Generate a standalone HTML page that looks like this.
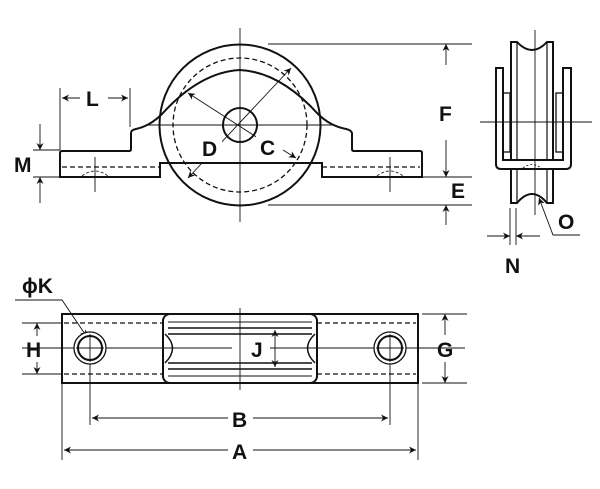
<!DOCTYPE html>
<html><head><meta charset="utf-8"><style>
html,body{margin:0;padding:0;background:#fff;}
svg{display:block;}
text{font-family:"Liberation Sans",sans-serif;font-weight:bold;font-size:21px;fill:#111;}
</style></head><body>
<svg width="600" height="489" viewBox="0 0 600 489" xmlns="http://www.w3.org/2000/svg">
<defs>
<marker id="a" viewBox="0 0 10 10" refX="10" refY="5" markerWidth="9" markerHeight="7" orient="auto-start-reverse" markerUnits="userSpaceOnUse"><path d="M0,0 L10,5 L0,10 L3,5z" fill="#111"/></marker>
</defs>
<g fill="none" stroke="#111">
<g stroke-width="0.9">
<line x1="240" y1="28" x2="240" y2="222"/>
<line x1="148" y1="125" x2="335" y2="125"/>
<line x1="268" y1="44" x2="472" y2="44"/>
<line x1="268" y1="205" x2="472" y2="205"/>
<line x1="422" y1="177" x2="472" y2="177"/>
<line x1="60" y1="88" x2="60" y2="150"/>
<line x1="130" y1="88" x2="130" y2="127"/>
<line x1="33" y1="150" x2="60" y2="150"/>
<line x1="33" y1="177" x2="60" y2="177"/>
<line x1="95" y1="157" x2="95" y2="192"/>
<line x1="390" y1="157" x2="390" y2="192"/>
<line x1="446" y1="65" x2="446" y2="44" marker-end="url(#a)"/>
<line x1="446" y1="140" x2="446" y2="177" marker-end="url(#a)"/>
<line x1="446" y1="225" x2="446" y2="205" marker-end="url(#a)"/>
<line x1="80" y1="98" x2="62" y2="98" marker-end="url(#a)"/>
<line x1="108" y1="98" x2="128" y2="98" marker-end="url(#a)"/>
<line x1="40" y1="124" x2="40" y2="150" marker-end="url(#a)"/>
<line x1="40" y1="203" x2="40" y2="177" marker-end="url(#a)"/>
<line x1="188" y1="178" x2="291" y2="68" marker-start="url(#a)" marker-end="url(#a)"/>
<line x1="258" y1="138" x2="188" y2="93" marker-end="url(#a)"/>
<line x1="283" y1="150" x2="296" y2="158" marker-end="url(#a)"/>
</g>
<circle cx="240" cy="125" r="80.5" stroke-width="2"/>
<circle cx="240" cy="125" r="67" stroke-width="1.3" stroke-dasharray="5,3"/>
<circle cx="240" cy="125" r="17" stroke-width="2"/>
<path d="M60,177 L160,177 L160,163 L322,163 L322,177 L422,177 L422,153 Q422,151 420,151 L354,151 Q352,151 352,149 L352,133 Q351,130 346,129 Q330,126 318,114 Q280,72 240,70 Q200,72 162,114 Q150,126 136,129 Q131,130 131,133 L131,149 Q131,151 129,151 L62,151 Q60,151 60,153 Z" stroke-width="2"/>
<line x1="62" y1="167" x2="160" y2="167" stroke-width="1.2" stroke-dasharray="5,3"/>
<line x1="322" y1="167" x2="420" y2="167" stroke-width="1.2" stroke-dasharray="5,3"/>
<path d="M82,176 Q95,166 108,176 M377,176 Q390,166 403,176" stroke-width="0.8" stroke-dasharray="3,2"/>

<g stroke-width="0.9">
<line x1="535" y1="30" x2="535" y2="215"/>
<line x1="480" y1="122" x2="592" y2="122"/>
<line x1="510" y1="208" x2="510" y2="245"/>
<line x1="516" y1="208" x2="516" y2="245"/>
<line x1="487" y1="236" x2="510" y2="236" marker-end="url(#a)"/>
<line x1="540" y1="236" x2="516" y2="236" marker-end="url(#a)"/>
<polyline points="580,235 553,235 539,198" marker-end="url(#a)"/>
</g>
<g stroke-width="2">
<path d="M511,160 L511,42 L517,42 Q532,58 547,42 L553,42 L553,160"/>
<line x1="517" y1="42" x2="517" y2="160" stroke-width="1.2"/>
<line x1="547" y1="42" x2="547" y2="160" stroke-width="1.2"/>
<path d="M511,168 L511,203 L517,203 Q532,185 547,203 L553,203 L553,168" />
<line x1="517" y1="168" x2="517" y2="203" stroke-width="1.2"/>
<line x1="547" y1="168" x2="547" y2="203" stroke-width="1.2"/>
<path d="M496,68 L503,68 L503,160 L563,160 L563,68 L571,68 L571,164 Q571,169 566,169 L501,169 Q496,169 496,164 Z"/>
<rect x="503" y="93" width="7" height="59" stroke-width="1.3"/>
<rect x="556" y="93" width="7" height="59" stroke-width="1.3"/>
<path d="M523,168 Q532,161 541,168" stroke-width="0.8" stroke-dasharray="2,2"/>
</g>

<rect x="62" y="314" width="356" height="69" stroke-width="2"/>
<line x1="64" y1="323" x2="163" y2="323" stroke-width="1.2" stroke-dasharray="5,3"/>
<line x1="64" y1="374" x2="163" y2="374" stroke-width="1.2" stroke-dasharray="5,3"/>
<line x1="317" y1="323" x2="416" y2="323" stroke-width="1.2" stroke-dasharray="5,3"/>
<line x1="317" y1="374" x2="416" y2="374" stroke-width="1.2" stroke-dasharray="5,3"/>
<rect x="163" y="314" width="154" height="69" rx="7" stroke-width="2"/>
<g stroke-width="1.5">
<line x1="168" y1="328" x2="312" y2="328"/>
<line x1="168" y1="334" x2="312" y2="334"/>
<line x1="168" y1="363" x2="312" y2="363"/>
<line x1="168" y1="369" x2="312" y2="369"/>
<line x1="168" y1="376" x2="312" y2="376" stroke-width="1"/>
<line x1="168" y1="322" x2="312" y2="322" stroke-width="1"/>
<path d="M165,334 Q180,348 165,363 M315,334 Q300,348 315,363"/>
</g>
<g stroke-width="0.9">
<line x1="240" y1="308" x2="240" y2="390"/>
<line x1="22" y1="348" x2="232" y2="348"/>
<line x1="248" y1="348" x2="465" y2="348"/>
<line x1="22" y1="323" x2="62" y2="323"/>
<line x1="22" y1="374" x2="62" y2="374"/>
<line x1="422" y1="314" x2="467" y2="314"/>
<line x1="422" y1="383" x2="467" y2="383"/>
<line x1="37" y1="336" x2="37" y2="323" marker-end="url(#a)"/>
<line x1="37" y1="362" x2="37" y2="374" marker-end="url(#a)"/>
<line x1="445" y1="335" x2="445" y2="314" marker-end="url(#a)"/>
<line x1="445" y1="362" x2="445" y2="383" marker-end="url(#a)"/>
<line x1="275" y1="330" x2="275" y2="367" marker-start="url(#a)" marker-end="url(#a)"/>
<line x1="90" y1="336" x2="90" y2="425"/>
<line x1="390" y1="336" x2="390" y2="425"/>
<line x1="62" y1="383" x2="62" y2="460"/>
<line x1="418" y1="383" x2="418" y2="460"/>
<line x1="228" y1="418" x2="92" y2="418" marker-end="url(#a)"/>
<line x1="253" y1="418" x2="388" y2="418" marker-end="url(#a)"/>
<line x1="228" y1="450" x2="64" y2="450" marker-end="url(#a)"/>
<line x1="253" y1="450" x2="416" y2="450" marker-end="url(#a)"/>
<polyline points="15,300 62,300 87,337" marker-end="url(#a)"/>
</g>
<circle cx="90" cy="348" r="16" stroke-width="1.3" fill="#fff"/>
<circle cx="90" cy="348" r="12" stroke-width="2"/>
<circle cx="390" cy="348" r="16" stroke-width="1.3" fill="#fff"/>
<circle cx="390" cy="348" r="12" stroke-width="2"/>
<line x1="90" y1="334" x2="90" y2="362" stroke-width="0.9"/>
<line x1="76" y1="348" x2="104" y2="348" stroke-width="0.9"/>
<line x1="390" y1="334" x2="390" y2="362" stroke-width="0.9"/>
<line x1="376" y1="348" x2="404" y2="348" stroke-width="0.9"/>
</g>
<rect x="198" y="138" width="24" height="24" fill="#fff"/>
<rect x="256" y="136" width="24" height="24" fill="#fff"/>
<rect x="248" y="336" width="22" height="24" fill="#fff"/>
<text x="202" y="156">D</text>
<text x="260" y="155">C</text>
<text x="86" y="106">L</text>
<text x="14" y="172">M</text>
<text x="439" y="121">F</text>
<text x="451" y="198">E</text>
<text x="558" y="229">O</text>
<text x="505" y="273">N</text>
<text x="22" y="293">ϕK</text>
<text x="26" y="357">H</text>
<text x="251" y="357">J</text>
<text x="437" y="357">G</text>
<text x="232" y="427">B</text>
<text x="232" y="459">A</text>
</svg>
</body></html>
